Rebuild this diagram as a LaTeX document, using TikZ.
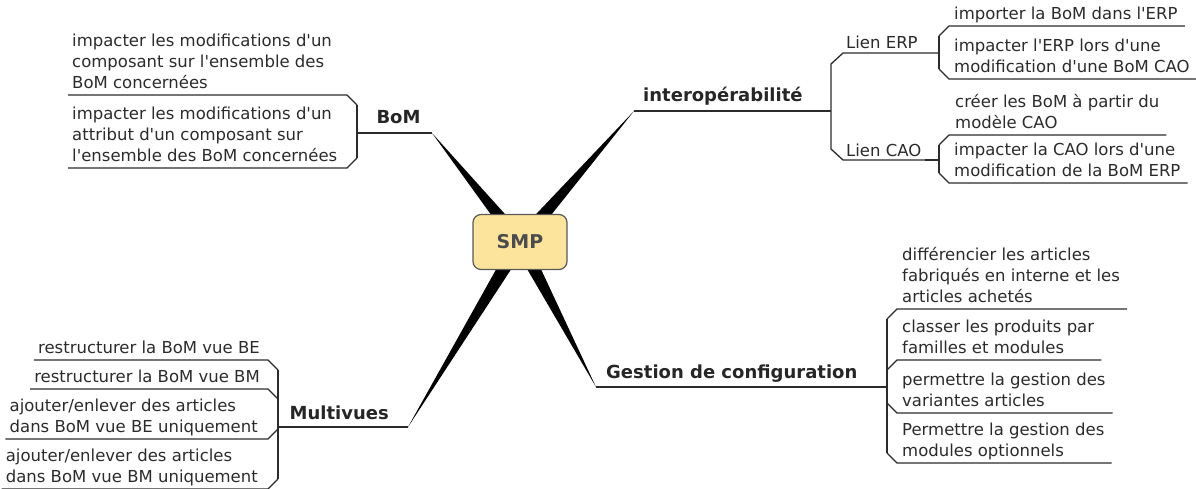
\documentclass[tikz,border=0pt]{standalone}
\usepackage{fontspec}
\setmainfont{DejaVu Sans}[Ligatures=TeXOff]
\usepackage{xcolor}
\usetikzlibrary{calc}
\definecolor{smpfill}{HTML}{FDE49C}
\definecolor{inkgray}{HTML}{2B2B2B}

\begin{document}
\begin{tikzpicture}[x=1pt,y=-1pt,
  leaf/.style={font=\fontsize{16.5}{21}\selectfont,align=left,inner sep=0pt,text=inkgray},
  topic/.style={font=\fontsize{18}{22}\selectfont\bfseries,inner sep=0pt,text=black!85},
  twig/.style={draw=inkgray,line width=1.3pt},
  stub/.style={draw=inkgray,line width=2.6pt},
  core/.style={draw=black!65,fill=smpfill,rounded corners=8pt,line width=1.2pt,minimum width=94pt,minimum height=55pt,font=\fontsize{19}{22}\selectfont\bfseries,text=black!70}]
\useasboundingbox (0,0) rectangle (1196,488);
\coordinate (hub) at (520,242);
\coordinate (bomtip) at (432,133);
\coordinate (iotip) at (634,111);
\coordinate (multip) at (408,427);
\coordinate (gestip) at (596,387);
\coordinate (bomsp) at (357,133);
\coordinate (iosp) at (831,111);
\coordinate (mulsp) at (278,427);
\coordinate (gessp) at (887,387);
\coordinate (erpsp) at (939,53);
\coordinate (caosp) at (939,160);
% tapered branches out of the centre
\foreach \t in {bomtip,iotip,multip,gestip}
  \fill[black] ($(hub)!7.5pt!90:(\t)$) -- (\t) -- ($(hub)!7.5pt!-90:(\t)$) -- cycle;
\node[core] (smp) at (hub) {SMP};
\draw[twig] (bomtip) -- (bomsp);
\draw[twig] (iotip) -- (iosp);
\draw[twig] (multip) -- (mulsp);
\draw[twig] (gestip) -- (gessp);
\draw[stub] (bomsp) -- ++(15,0);
\draw[stub] (mulsp) -- ++(15,0);
\draw[stub] (caosp) -- ++(-14,0);
\node[topic,anchor=base] (bom) at ($(bomtip)!0.5!(bomsp)+(4,-10)$) {BoM};
\node[topic,anchor=base west] (interop) at ($(iotip)+(9,-9.5)$) {interopérabilité};
\node[topic,anchor=base east] (multi) at ($(multip)+(-19,-7.5)$) {Multivues};
\node[topic,anchor=base west] (gestion) at ($(gestip)+(10,-9)$) {Gestion de configuration};
% second level
\draw[twig] (erpsp) -- ($(erpsp -| iosp)+(12,0)$) -- ++(-12,11) -- ($(caosp -| iosp)+(0,-11)$) -- ++(12,11) -- (caosp);
\node[leaf,anchor=base west] (erp) at ($(erpsp -| iosp)+(15,-4.5)$) {Lien ERP};
\node[leaf,anchor=base west] (cao) at ($(caosp -| iosp)+(15,-4)$) {Lien CAO};
% leaves
\node[leaf,anchor=south west] (erp1) at (954,26) {importer la BoM dans l'ERP\strut};
\node[leaf,anchor=south west] (erp2) at (954,79) {impacter l'ERP lors d'une\\modification d'une BoM CAO\strut};
\node[leaf,anchor=south west] (cao1) at (955,135) {créer les BoM à partir du\\modèle CAO\strut};
\node[leaf,anchor=south west] (cao2) at (954,183) {impacter la CAO lors d'une\\modification de la BoM ERP\strut};
\node[leaf,anchor=south west] (ges1) at (902,309) {différencier les articles\\fabriqués en interne et les\\articles achetés\strut};
\node[leaf,anchor=south west] (ges2) at (902,360) {classer les produits par\\familles et modules\strut};
\node[leaf,anchor=south west] (ges3) at (902,413) {permettre la gestion des\\variantes articles\strut};
\node[leaf,anchor=south west] (ges4) at (902,463) {Permettre la gestion des\\modules optionnels\strut};
\node[leaf,anchor=south west] (bom1) at (72,95) {impacter les modifications d'un\\composant sur l'ensemble des\\BoM concernées\strut};
\node[leaf,anchor=south west] (bom2) at (72,168) {impacter les modifications d'un\\attribut d'un composant sur\\l'ensemble des BoM concernées\strut};
\node[leaf,anchor=south east] (mul1) at (260,360) {restructurer la BoM vue BE\strut};
\node[leaf,anchor=south east] (mul2) at (260,389) {restructurer la BoM vue BM\strut};
\node[leaf,anchor=south east] (mul3) at (258,439) {ajouter/enlever des articles\\dans BoM vue BE uniquement\strut};
\node[leaf,anchor=south east] (mul4) at (258,489) {ajouter/enlever des articles\\dans BoM vue BM uniquement\strut};
% underlines and brackets
\foreach \n/\s/\d in {erp1/erpsp/1,erp2/erpsp/-1,cao1/caosp/1,cao2/caosp/-1,ges1/gessp/1,ges2/gessp/1,ges3/gessp/-1,ges4/gessp/-1}
  \draw[twig] ($(\n.south east)+(7,0)$) -- ($(\n.south west -| \s)+(10,0)$) -- ++(-10,10*\d);
\foreach \n/\s/\d in {bom1/bomsp/1,bom2/bomsp/-1,mul1/mulsp/1,mul2/mulsp/1,mul3/mulsp/-1,mul4/mulsp/-1}
  \draw[twig] ($(\n.south west)+(-4,0)$) -- ($(\n.south east -| \s)+(-10,0)$) -- ++(10,10*\d);
\foreach \a/\b/\s in {erp1/erp2/erpsp,cao1/cao2/caosp,ges1/ges4/gessp,bom1/bom2/bomsp,mul1/mul4/mulsp}
  \draw[twig] ($(\a.south -| \s)+(0,10)$) -- ($(\b.south -| \s)+(0,-10)$);
\end{tikzpicture}
\end{document}
